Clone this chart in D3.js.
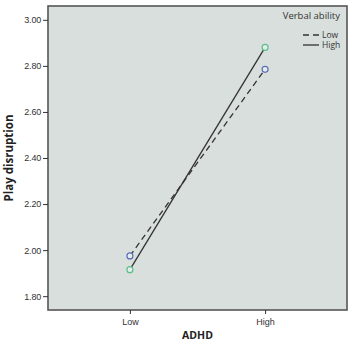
<!DOCTYPE html>
<html>
<head>
<meta charset="utf-8">
<script src="https://cdn.jsdelivr.net/npm/d3@7"></script>
<style>
  body { margin: 0; background: #fff; }
  svg { font-family: "Open Sans", "DejaVu Sans", sans-serif; }
</style>
</head>
<body>
<svg id="chart" width="351" height="343"></svg>
<script>
// chart values
const adhdLevels = ['Low', 'High'];
const verbalGroups = ['Low', 'High'];
const lowVerbal = [1.975, 2.785];
const highVerbal = [1.915, 2.88];
const yTicks = [1.8, 2.0, 2.2, 2.4, 2.6, 2.8, 3.0];

const svg = d3.select('#chart');
const plotL = 48, plotR = 347, plotT = 6, plotB = 310;

const x = d3.scalePoint().domain(adhdLevels).range([plotL, plotR]).padding(0.606);
const y = d3.scaleLinear().domain([1.74, 3.06]).range([plotB, plotT]);

// plot background
svg.append('rect')
  .attr('x', plotL).attr('y', plotT)
  .attr('width', plotR - plotL).attr('height', plotB - plotT)
  .attr('fill', '#d9dfdd')
  .attr('stroke', '#555').attr('stroke-width', 1.6);

// axes
const yAxis = svg.append('g')
  .attr('transform', `translate(${plotL},0)`)
  .call(d3.axisLeft(y).tickValues(yTicks).tickFormat(d3.format('.2f')).tickSize(5).tickSizeOuter(0));
yAxis.select('.domain').remove();
yAxis.selectAll('text').attr('font-size', 9).attr('fill', '#333').attr('dx', 1).attr('letter-spacing', -0.2);
yAxis.selectAll('line').attr('stroke', '#333');

const xAxis = svg.append('g')
  .attr('transform', `translate(0,${plotB})`)
  .call(d3.axisBottom(x).tickSize(4).tickSizeOuter(0));
xAxis.select('.domain').remove();
xAxis.selectAll('text').attr('font-size', 9).attr('fill', '#333').attr('dy', '0.85em');
xAxis.selectAll('line').attr('stroke', '#333');

// axis titles
svg.append('text')
  .attr('x', (x('Low') + x('High')) / 2).attr('y', 339)
  .attr('text-anchor', 'middle')
  .attr('font-size', 10.5).attr('font-weight', 'bold').attr('fill', '#222')
  .text('ADHD');

svg.append('text')
  .attr('transform', `translate(13,${(plotT + plotB) / 2}) rotate(-90)`)
  .attr('text-anchor', 'middle')
  .attr('font-size', 11.5).attr('font-weight', 'bold').attr('fill', '#222')
  .text('Play disruption');

// lines
const series = [
  { name: 'Low', values: lowVerbal, dash: '6,4', colour: '#5b6fb8' },
  { name: 'High', values: highVerbal, dash: null, colour: '#5cbf8a' }
];

const line = d3.line()
  .x((d, i) => x(adhdLevels[i]))
  .y(d => y(d));

series.forEach(s => {
  svg.append('path')
    .attr('d', line(s.values))
    .attr('fill', 'none')
    .attr('stroke', '#333')
    .attr('stroke-width', 1.3)
    .attr('stroke-dasharray', s.dash);

  svg.selectAll(null)
    .data(s.values)
    .join('circle')
    .attr('cx', (d, i) => x(adhdLevels[i]))
    .attr('cy', d => y(d))
    .attr('r', 3)
    .attr('fill', '#e6ecea')
    .attr('stroke', s.colour)
    .attr('stroke-width', 1.2);
});

// legend
const legend = svg.append('g');
legend.append('text')
  .attr('x', 340).attr('y', 19)
  .attr('text-anchor', 'end')
  .attr('font-size', 9.5).attr('fill', '#333')
  .text('Verbal ability');

verbalGroups.forEach((g, i) => {
  const ly = 35 + i * 10;
  legend.append('line')
    .attr('x1', 303).attr('x2', 319)
    .attr('y1', ly).attr('y2', ly)
    .attr('stroke', '#333').attr('stroke-width', 1.3)
    .attr('stroke-dasharray', series[i].dash);
  legend.append('text')
    .attr('x', 322).attr('y', ly + 3)
    .attr('font-size', 8.5).attr('fill', '#333')
    .text(g);
});
</script>
</body>
</html>
